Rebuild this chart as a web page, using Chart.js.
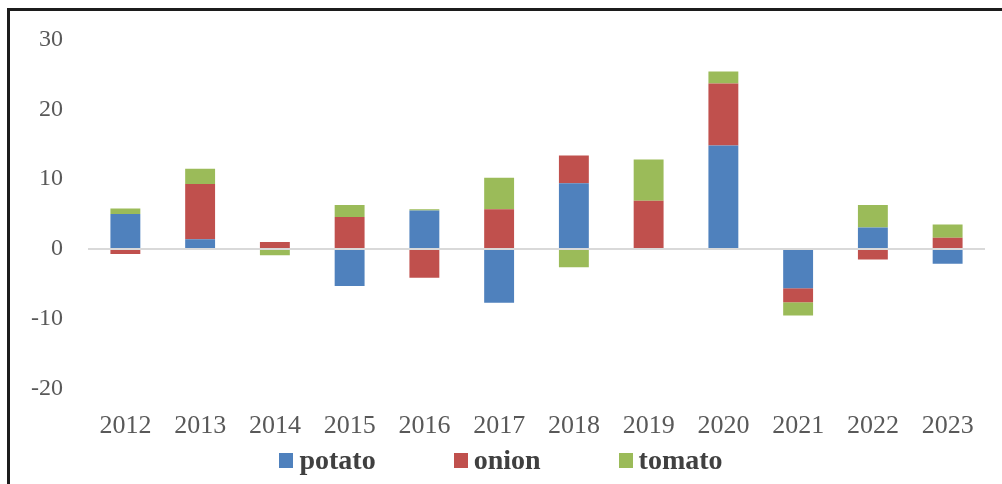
<!DOCTYPE html>
<html>
<head>
<meta charset="utf-8">
<script src="https://cdn.jsdelivr.net/npm/chart.js@4"></script>
<style>
  html, body { margin: 0; padding: 0; background: #fff; }
  #wrap { position: relative; width: 1002px; height: 484px; overflow: hidden; }
  #frame { position: absolute; left: 7px; top: 8px; width: 1010px; height: 500px;
           border-left: 3px solid #1c1c1c; border-top: 3px solid #1c1c1c; box-sizing: border-box; }
  #chart { position: absolute; left: 0; top: 0; }
  #legend { position: absolute; left: 0; top: 444px; width: 1002px; display: flex; justify-content: center;
            font: bold 28px 'Liberation Serif', 'Times New Roman', serif; color: #404040; line-height: 32px; }
  #legend .item { display: flex; align-items: center; margin: 0 39px; }
  #legend .box { width: 14px; height: 15px; margin-right: 6px; }
</style>
</head>
<body>
<div id="wrap">
  <canvas id="chart" width="1002" height="484"></canvas>
  <div id="legend"></div>
  <div id="frame"></div>
</div>
<script>
// years on the x axis
var years = ["2012", "2013", "2014", "2015", "2016", "2017", "2018", "2019", "2020", "2021", "2022", "2023"];
// values
var potato = [5.0, 1.4, 0.0, -5.3, 5.5, -7.7, 9.4, 0.0, 14.8, -5.6, 3.1, -2.1];
var onion  = [-0.7, 7.9, 1.0, 4.6, -4.1, 5.7, 4.0, 6.9, 8.9, -2.0, -1.5, 1.6];
var tomato = [0.8, 2.2, -0.9, 1.7, 0.2, 4.5, -2.6, 5.9, 1.7, -1.9, 3.2, 1.9];
var yTicks = [-20, -10, 0, 10, 20, 30];

var serif = "'Liberation Serif', 'Times New Roman', serif";

var ctx = document.getElementById("chart").getContext("2d");
var chart = new Chart(ctx, {
    type: "bar",
    data: {
        labels: years,
        datasets: [
            { label: "potato", data: potato, backgroundColor: "#4f81bd" },
            { label: "onion",  data: onion,  backgroundColor: "#c0504d" },
            { label: "tomato", data: tomato, backgroundColor: "#9bbb59" }
        ]
    },
    options: {
        responsive: false,
        animation: false,
        barPercentage: 0.4,
        categoryPercentage: 1.0,
        layout: { padding: { top: 34, right: 17, bottom: 20, left: 0 } },
        plugins: {
            tooltip: { enabled: false },
            legend: { display: false }
        },
        scales: {
            x: {
                stacked: true,
                grid: { display: false, drawTicks: false },
                border: { display: false },
                ticks: { color: "#595959", padding: 22, autoSkip: false, maxRotation: 0, font: { family: serif, size: 26 } }
            },
            y: {
                stacked: true,
                min: yTicks[0],
                max: yTicks[yTicks.length - 1],
                afterBuildTicks: function (scale) {
                    scale.ticks = yTicks.map(function (v) { return { value: v }; });
                },
                afterFit: function (scale) { scale.width = 88; },
                border: { display: false },
                grid: {
                    drawTicks: false,
                    lineWidth: 2,
                    color: function (c) { return c.tick && c.tick.value === 0 ? "#d9d9d9" : "rgba(0,0,0,0)"; }
                },
                ticks: { color: "#595959", padding: 25, font: { family: serif, size: 24 } }
            }
        }
    }
});

// legend built from the chart's datasets
var legend = document.getElementById("legend");
chart.data.datasets.forEach(function (ds) {
    var item = document.createElement("div");
    item.className = "item";
    var box = document.createElement("span");
    box.className = "box";
    box.style.background = ds.backgroundColor;
    item.appendChild(box);
    item.appendChild(document.createTextNode(ds.label));
    legend.appendChild(item);
});
</script>
</body>
</html>
